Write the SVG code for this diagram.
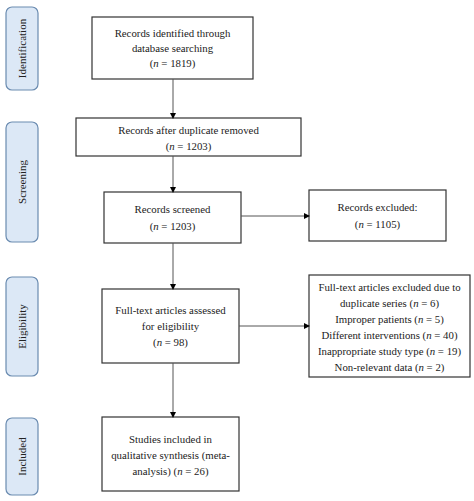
<svg xmlns="http://www.w3.org/2000/svg" width="474" height="501" viewBox="0 0 474 501">
<defs>
<marker id="ah" markerWidth="6" markerHeight="6" refX="5" refY="3" orient="auto" markerUnits="userSpaceOnUse">
<path d="M0,0 L6,3 L0,6 Z" fill="#000"/>
</marker>
<style>
.stage rect{fill:#dce8f6;stroke:#6a8bb0;stroke-width:1.2}
.stage text{font-family:"Liberation Serif",serif;font-size:11px;fill:#222;text-anchor:middle}
.box rect{fill:#fff;stroke:#333;stroke-width:1.2}
.box text{font-family:"Liberation Serif",serif;font-size:10.8px;fill:#222;text-anchor:middle}
.conn line{stroke:#555;stroke-width:1;marker-end:url(#ah)}
</style>
</defs>
<rect width="474" height="501" fill="#fff"/>
<g id="stage-identification" class="stage"><rect x="6" y="7" width="32" height="83" rx="6"/><text transform="translate(26,48.5) rotate(-90)">Identification</text></g>
<g id="stage-screening" class="stage"><rect x="6" y="122" width="32" height="120" rx="6"/><text transform="translate(26,182) rotate(-90)">Screening</text></g>
<g id="stage-eligibility" class="stage"><rect x="6" y="277" width="32" height="99" rx="6"/><text transform="translate(26,326.5) rotate(-90)">Eligibility</text></g>
<g id="stage-included" class="stage"><rect x="6" y="418" width="32" height="77" rx="6"/><text transform="translate(26,456.5) rotate(-90)">Included</text></g>

<g id="identified" class="box"><rect x="92" y="17" width="161" height="62"/>
<text x="172.5" y="37">Records identified through</text><text x="172.5" y="52">database searching</text><text x="172.5" y="67">(<tspan font-style="italic">n</tspan> = 1819)</text></g>
<g id="deduplicated" class="box"><rect x="76" y="118" width="225" height="38"/>
<text x="188.5" y="134">Records after duplicate removed</text><text x="188.5" y="150">(<tspan font-style="italic">n</tspan> = 1203)</text></g>
<g id="screened" class="box"><rect x="104" y="192" width="137" height="51"/>
<text x="172.5" y="213">Records screened</text><text x="172.5" y="230">(<tspan font-style="italic">n</tspan> = 1203)</text></g>
<g id="excluded" class="box"><rect x="309" y="190" width="137" height="51"/>
<text x="377.5" y="211">Records excluded:</text><text x="377.5" y="228">(<tspan font-style="italic">n</tspan> = 1105)</text></g>
<g id="fulltext" class="box"><rect x="102" y="289" width="137" height="74"/>
<text x="170.5" y="314">Full-text articles assessed</text><text x="170.5" y="330">for eligibility</text><text x="170.5" y="346">(<tspan font-style="italic">n</tspan> = 98)</text></g>
<g id="fulltext-excluded" class="box"><rect x="309" y="275" width="161" height="102"/>
<text x="389.5" y="291">Full-text articles excluded due to</text>
<text x="389.5" y="307">duplicate series (<tspan font-style="italic">n</tspan> = 6)</text>
<text x="389.5" y="323">Improper patients (<tspan font-style="italic">n</tspan> = 5)</text>
<text x="389.5" y="339">Different interventions (<tspan font-style="italic">n</tspan> = 40)</text>
<text x="389.5" y="355">Inappropriate study type (<tspan font-style="italic">n</tspan> = 19)</text>
<text x="389.5" y="371">Non-relevant data (<tspan font-style="italic">n</tspan> = 2)</text></g>
<g id="included" class="box"><rect x="102" y="417" width="137" height="74"/>
<text x="170.5" y="443">Studies included in</text><text x="170.5" y="459">qualitative synthesis (meta-</text><text x="170.5" y="475">analysis) (<tspan font-style="italic">n</tspan> = 26)</text></g>

<g id="connectors" class="conn">
<line x1="173" y1="79" x2="173" y2="118"/>
<line x1="173" y1="156" x2="173" y2="192"/>
<line x1="241" y1="216" x2="309" y2="216"/>
<line x1="173" y1="243" x2="173" y2="289"/>
<line x1="239" y1="326" x2="309" y2="326"/>
<line x1="173" y1="363" x2="173" y2="417"/>
</g>
</svg>
